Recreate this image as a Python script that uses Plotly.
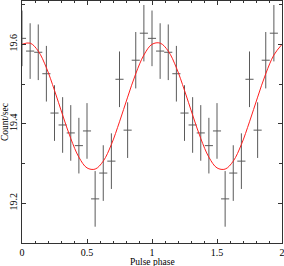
import plotly.graph_objects as go

# Folded light curve: 16 bins per cycle, shown over two cycles (phase 0..2)
bin_phase = [0.0, 0.0625, 0.125, 0.1875, 0.25, 0.3125, 0.375, 0.4375,
             0.5, 0.5625, 0.625, 0.6875, 0.75, 0.8125, 0.875, 0.9375]
rate = [19.615, 19.583, 19.580, 19.526, 19.427, 19.397, 19.377, 19.345,
        19.382, 19.211, 19.276, 19.306, 19.512, 19.384, 19.560, 19.628]
rate_err = [0.070, 0.070, 0.070, 0.070, 0.070, 0.070, 0.070, 0.070,
            0.070, 0.070, 0.070, 0.070, 0.070, 0.070, 0.071, 0.071]
bin_halfwidth = 0.03125

# Model curve (one cycle, repeated)
model_phase = [0.0, 0.0625, 0.125, 0.1875, 0.25, 0.3125, 0.375, 0.4375,
               0.5, 0.5625, 0.625, 0.6875, 0.75, 0.8125, 0.875, 0.9375]
model_rate = [19.600, 19.603, 19.583, 19.541, 19.484, 19.422, 19.363, 19.316,
              19.289, 19.286, 19.306, 19.348, 19.405, 19.467, 19.526, 19.573]

x_ticks = [0, 0.5, 1, 1.5, 2]
x_ticklabels = ["0", "0.5", "1", "1.5", "2"]
y_ticks = [19.2, 19.4, 19.6]
y_ticklabels = ["19.2", "19.4", "19.6"]

# two cycles
px = bin_phase + [p + 1 for p in bin_phase]
py = rate + rate
pe = rate_err + rate_err
mx = model_phase + [p + 1 for p in model_phase] + [2.0]
my = model_rate + model_rate + [model_rate[0]]

FONT = "Liberation Serif"
AX = "#333333"

fig = go.Figure()
fig.add_trace(go.Scatter(
    x=px, y=py, mode="markers",
    marker=dict(size=0.1, color="rgba(0,0,0,0)"),
    error_y=dict(type="data", array=pe, visible=True, width=0,
                 thickness=1, color="#5a5a5a"),
    error_x=dict(type="constant", value=bin_halfwidth, visible=True,
                 width=0, thickness=1, color="#5a5a5a"),
    showlegend=False, hoverinfo="skip"))
fig.add_trace(go.Scatter(
    x=mx, y=my, mode="lines", line=dict(color="#ff2020", width=1, shape="spline", smoothing=1.0),
    showlegend=False, hoverinfo="skip"))

fig.update_layout(
    template="none",
    width=284, height=266,
    margin=dict(l=22, r=2, t=1, b=23, autoexpand=False),
    paper_bgcolor="white", plot_bgcolor="white",
    font=dict(family=FONT, size=10, color="black"),
    xaxis=dict(range=[0, 2], tickvals=x_ticks, ticktext=x_ticklabels, automargin=False,
               ticks="inside", ticklen=4, tickcolor=AX, tickwidth=1,
               showline=True, linecolor=AX, linewidth=1, mirror="allticks",
               showgrid=False, zeroline=False, ticklabeloverflow="allow",
               minor=dict(ticks="inside", ticklen=2, dtick=0.1, tick0=0, tickcolor=AX, showgrid=False),
               tickfont=dict(family=FONT, size=10)),
    yaxis=dict(range=[19.1, 19.709], tickvals=y_ticks, ticktext=y_ticklabels, automargin=False,
               ticks="inside", ticklen=4, tickcolor=AX, tickwidth=1,
               showline=True, linecolor=AX, linewidth=1, mirror="allticks",
               showgrid=False, zeroline=False, tickangle=-90, ticklabeloverflow="allow",
               minor=dict(ticks="inside", ticklen=3, dtick=0.1, tick0=19.1, tickcolor=AX, showgrid=False),
               tickfont=dict(family=FONT, size=10)),
    annotations=[
        dict(text="Pulse phase", xref="paper", yref="paper", x=0.5, y=-0.078,
             xanchor="center", yanchor="middle", showarrow=False,
             font=dict(family=FONT, size=9.5)),
        dict(text="Count/sec", xref="paper", yref="paper", x=-0.0654, y=0.5,
             xanchor="center", yanchor="middle", textangle=-90, showarrow=False,
             font=dict(family=FONT, size=9.5)),
    ],
)

fig.write_html("out.html", config={"displayModeBar": False, "staticPlot": True},
               post_script="document.body.style.margin='0';document.body.style.overflow='hidden';")
